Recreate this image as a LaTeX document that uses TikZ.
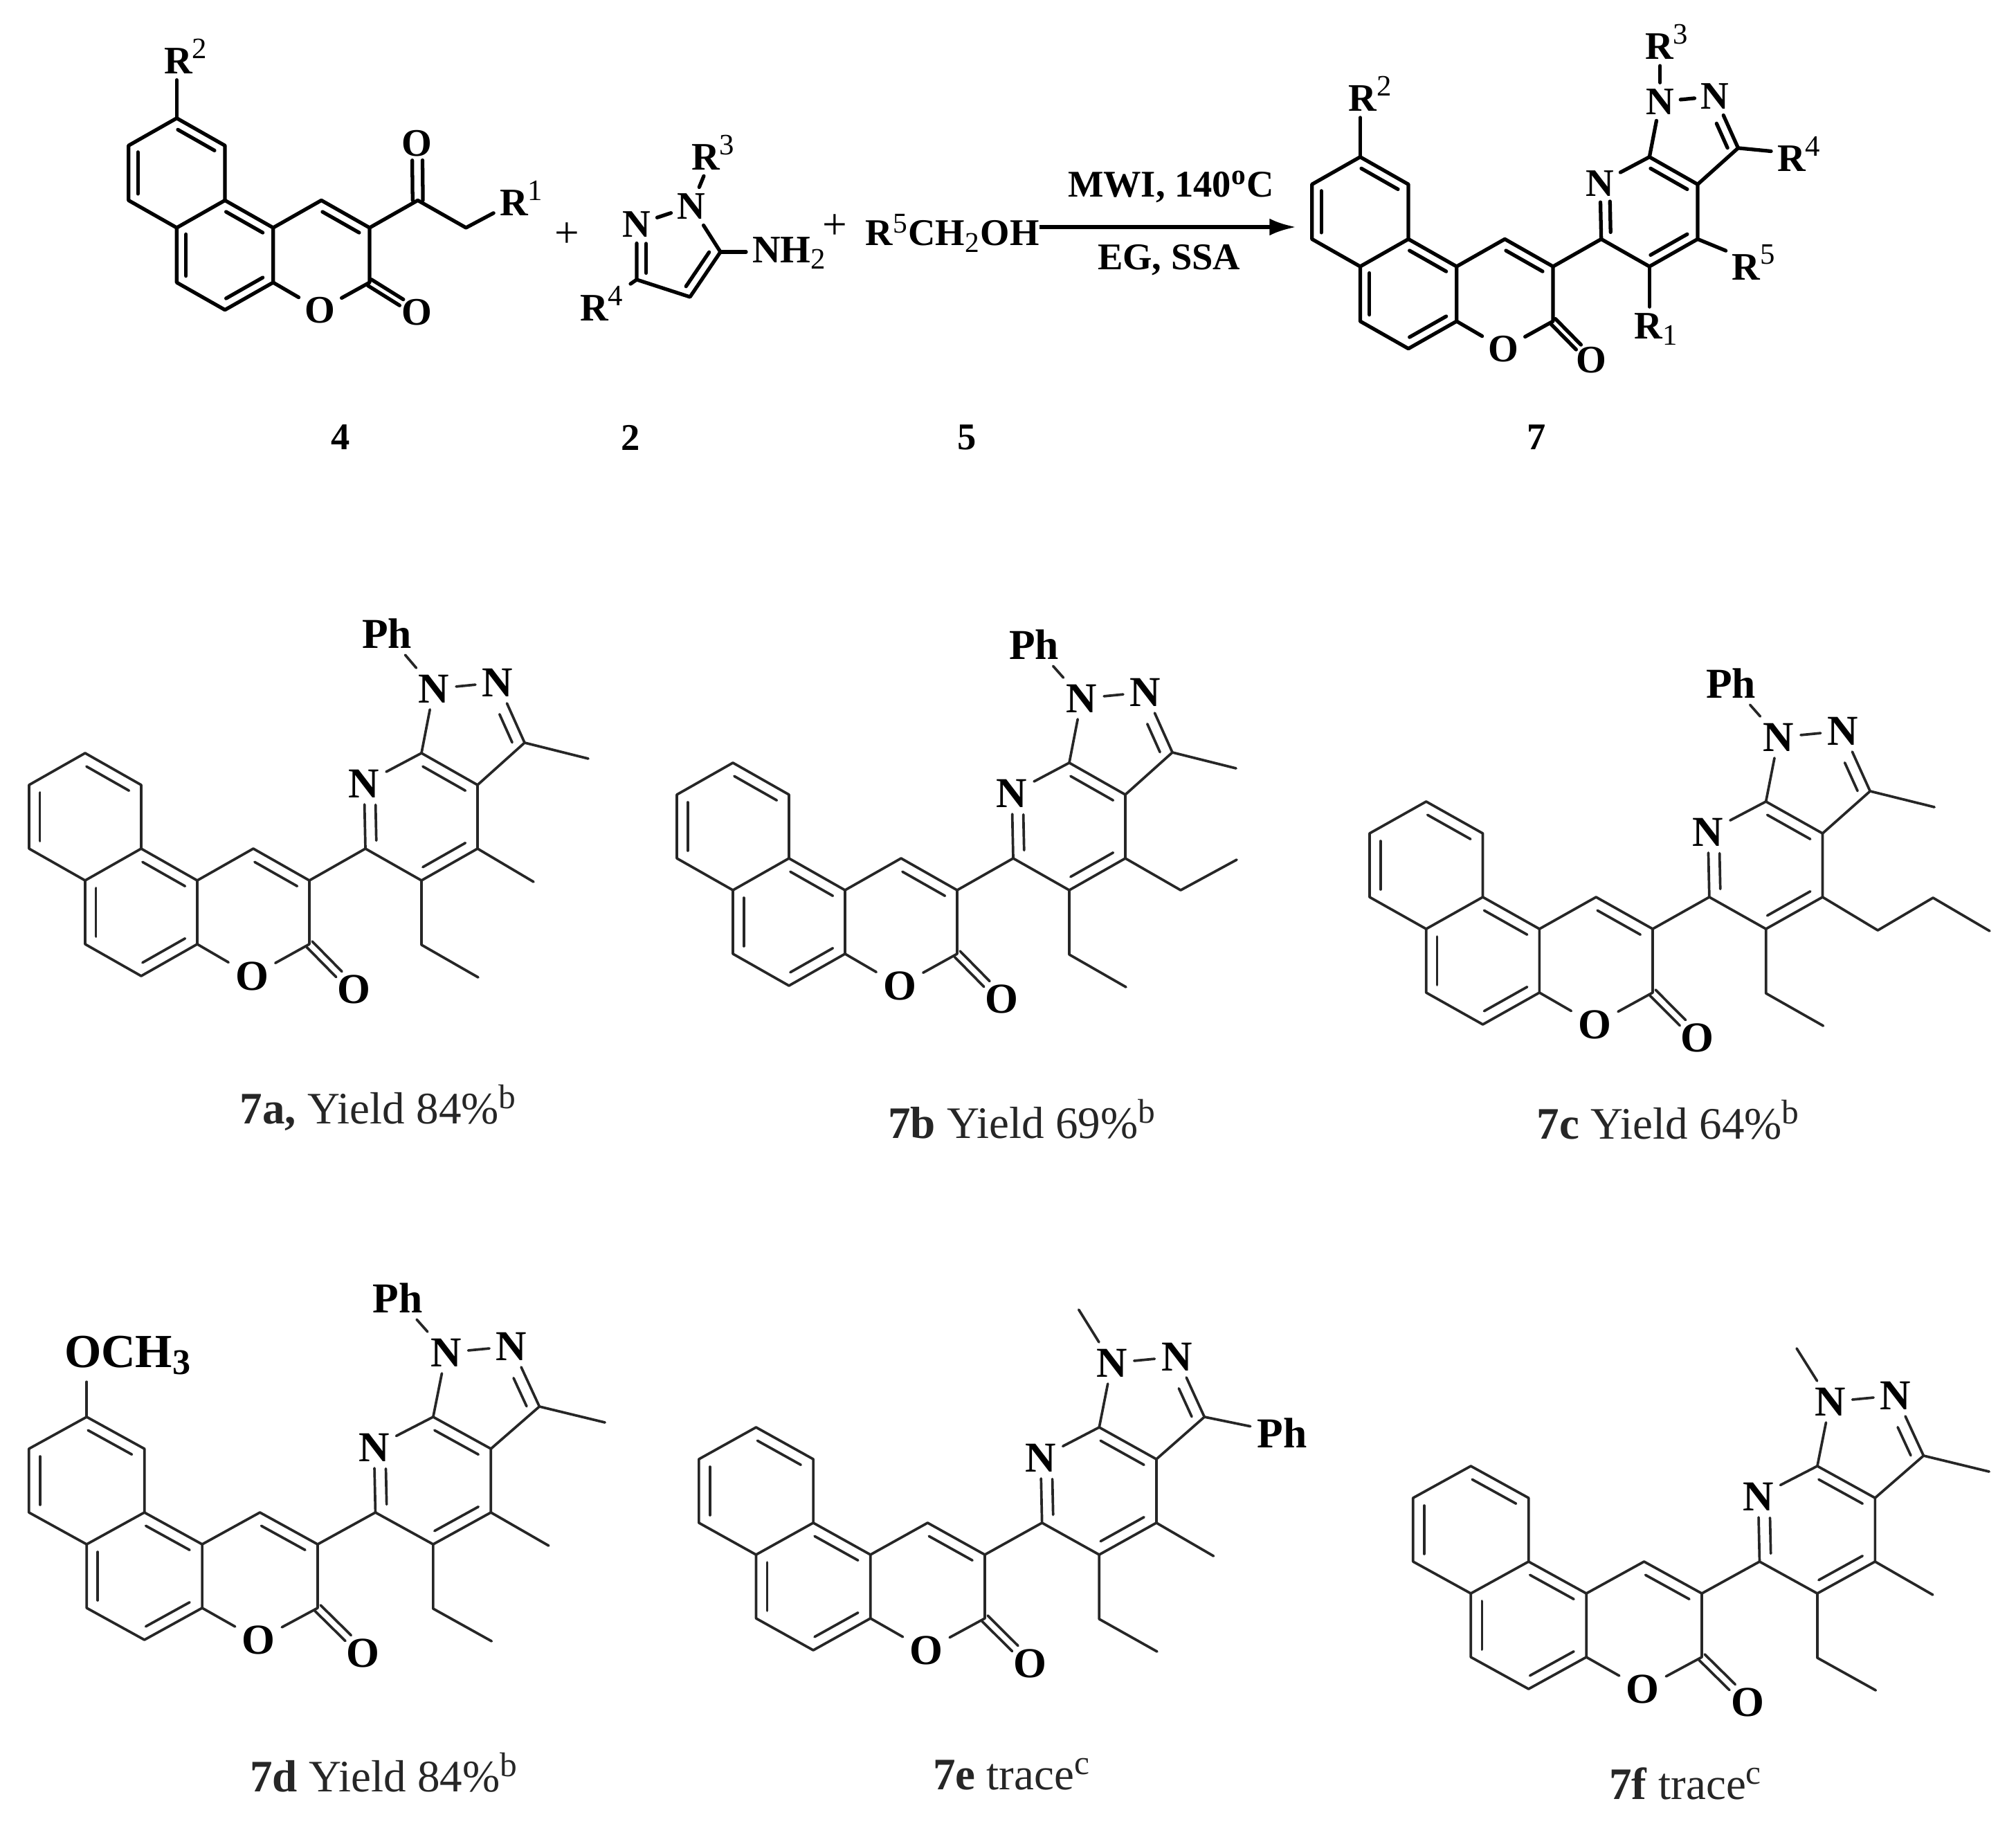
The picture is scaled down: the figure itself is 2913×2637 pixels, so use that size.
\documentclass[tikz,border=0pt]{standalone}
\usepackage{fontspec}
\setmainfont{Liberation Serif}
\usetikzlibrary{calc,arrows.meta}
\renewcommand{\defaultscriptratio}{.76}
\tikzset{
 bond/.style={line width=1.05pt,color=black!85,line cap=round,line join=round},
 atom/.style={font=\fontsize{17.5}{20}\selectfont\bfseries,inner sep=2.6pt},
 heavy/.style={
  bond/.style={line width=1.5pt,color=black,line cap=round,line join=round},
  atom/.style={font=\fontsize{16}{18}\selectfont\bfseries,inner sep=2.4pt}},
 reagent/.style={font=\fontsize{15.5}{18}\selectfont\bfseries,inner sep=0pt},
 plus/.style={font=\fontsize{18}{20}\selectfont,inner sep=0pt},
 yield/.style={font=\fontsize{18.5}{22}\selectfont,inner sep=0pt,text=black!85},
}
\newcommand{\rgrp}[1]{R\textsuperscript{\mdseries #1}}
% inner line of a double bond, on the left of first->second
\newcommand{\dbl}[5][.17]{\draw[bond] ($($(#2)!#1!90:(#3)$)!#4!($(#3)!#1!-90:(#2)$)$) -- ($($(#3)!#1!-90:(#2)$)!#5!($(#2)!#1!90:(#3)$)$);}
% naphthalene + lactone, C3 at the origin
\newcommand{\coumarincore}[2]{
 \coordinate (#1a1) at (-324,-184);
 \coordinate (#1a2) at (-243,-138);
 \coordinate (#1a3) at (-243,-46);
 \coordinate (#1a4) at (-324,0);
 \coordinate (#1a5) at (-405,-46);
 \coordinate (#1a6) at (-405,-138);
 \coordinate (#1b1) at (-162,0);
 \coordinate (#1b2) at (-162,92);
 \coordinate (#1b3) at (-243,138);
 \coordinate (#1b4) at (-324,92);
 \coordinate (#1c4) at (-81,-46);
 \coordinate (#1c3) at (0,0);
 \coordinate (#1c2) at (0,92);
 \node[atom] (#1o1) at (-83,138) {O};
 \node[atom] (#1o2) at (#2) {O};
 \draw[bond] (#1a1)--(#1a2)--(#1a3)--(#1a4)--(#1a5)--(#1a6)--cycle;
 \draw[bond] (#1a3)--(#1b1)--(#1b2)--(#1b3)--(#1b4)--(#1a4);
 \draw[bond] (#1b1)--(#1c4)--(#1c3)--(#1c2)--(#1o1)--(#1b2);
 \dbl{#1a2}{#1a1}{.12}{.12}
 \dbl{#1a6}{#1a5}{.12}{.12}
 \dbl{#1b1}{#1a3}{.12}{.12}
 \dbl{#1a4}{#1b4}{.12}{.12}
 \dbl{#1b3}{#1b2}{.12}{.12}
 \dbl{#1c3}{#1c4}{.12}{.12}
 \dbl[.063]{#1c2}{#1o2}{0}{.33}
 \dbl[-.063]{#1c2}{#1o2}{0}{.33}
}
% pyridine + pyrazole on C3
\newcommand{\pyrazolopyridine}[1]{
 \coordinate (#1p6) at (81,-46);
 \node[atom] (#1pn) at (79,-140) {N};
 \coordinate (#1p7) at (162,-184);
 \coordinate (#1p3a) at (243,-138);
 \coordinate (#1p4) at (243,-46);
 \coordinate (#1p5) at (162,0);
 \node[atom] (#1pn1) at (180,-277) {N};
 \node[atom] (#1pn2) at (272,-286) {N};
 \coordinate (#1p3) at (311,-199);
 \draw[bond] (#1c3)--(#1p6)--(#1pn)--(#1p7)--(#1p3a)--(#1p4)--(#1p5)--(#1p6);
 \draw[bond] (#1p7)--(#1pn1)--(#1pn2)--(#1p3)--(#1p3a);
 \dbl{#1p3a}{#1p7}{.12}{.12}
 \dbl{#1p5}{#1p4}{.12}{.12}
 \dbl{#1pn}{#1p6}{.33}{.12}
 \dbl{#1p3}{#1pn2}{.08}{.45}
}
\begin{document}
\begin{tikzpicture}[x=0.01cm,y=-0.01cm]
\useasboundingbox (0,0) rectangle (2913,2637);

% 4
\begin{scope}[shift={(534,329)},scale=.86,heavy]
 \coumarincore{s}{80,142}
 \coordinate (sco) at (81,-46);
 \coordinate (sch) at (162,0);
 \node[atom] (sotop) at (80,-142) {O};
 \node[atom] (sr1) at (256,-50) {\rgrp{1}};
 \node[atom] (sr2) at (-308,-288) {\rgrp{2}};
 \draw[bond] (sa1)--(sa1 |- sr2.south);
 \draw[bond] (sc3)--(sco)--(sch)--(sr1);
 \dbl[.09]{sco}{sotop}{0}{.3}
 \dbl[-.09]{sco}{sotop}{0}{.3}
\end{scope}

% 2
\begin{scope}[heavy]
 \node[atom] (bn1) at (999,298) {N};
 \node[atom] (bn2) at (920,324) {N};
 \coordinate (bc3) at (920,404);
 \coordinate (bc4) at (997,429);
 \coordinate (bc5) at (1041,364);
 \node[atom,anchor=west] (bnh) at (1078,366) {NH\textsubscript{\mdseries 2}};
 \node[atom] (br3) at (1031,220) {\rgrp{3}};
 \node[atom] (br4) at (870,438) {\rgrp{4}};
 \draw[bond] (bn1)--(bn2)--(bc3)--(bc4)--(bc5)--(bn1);
 \draw[bond] (bn1)--(br3);
 \draw[bond] (bc3)--(br4);
 \draw[bond] (bc5)--(bc5 -| bnh.west);
 \dbl{bn2}{bc3}{.35}{.12}
 \dbl{bc4}{bc5}{.12}{.12}
\end{scope}

\node[plus] (plusa) at (819,340) {+};
\node[plus] (plusb) at (1206,328) {+};
\node[reagent,anchor=west] (alcohol) at (1250,337) {\rgrp{5}CH\textsubscript{\mdseries 2}OH};
\coordinate (arrowend) at (1873,328);
\draw[line width=1.7pt,-{Latex[length=11pt,width=7pt]}] (alcohol.east |- arrowend)--(arrowend);
\node[reagent] (cond) at (1692,270) {MWI, 140\textsuperscript{o}C};
\node[reagent] (solv) at (1689,376) {EG, SSA};

% 7
\begin{scope}[shift={(2244,385)},scale=.86,heavy]
 \coumarincore{t}{64,157}
 \pyrazolopyridine{t}
 \node[atom] (tr2) at (-306,-290) {\rgrp{2}};
 \node[atom] (tr3) at (192,-377) {\rgrp{3}};
 \node[atom] (tr4) at (414,-189) {\rgrp{4}};
 \node[atom] (tr5) at (338,-7) {\rgrp{5}};
 \node[atom] (tr1) at (174,105) {R\textsubscript{\mdseries 1}};
 \draw[bond] (ta1)--(ta1 |- tr2.south);
 \draw[bond] (tpn1.north)--(tpn1.north |- tr3.south);
 \draw[bond] (tp3)--(tr4);
 \draw[bond] (tp4)--(tr5);
 \draw[bond] (tp5)--(tp5 |- tr1.north);
\end{scope}

\node[reagent] (num4) at (492,632) {4};
\node[reagent] (num2) at (911,632) {2};
\node[reagent] (num5) at (1397,632) {5};
\node[reagent] (num7) at (2220,632) {7};

% 7a
\begin{scope}[shift={(447,1272)}]
 \coumarincore{a}{64,157}
 \pyrazolopyridine{a}
 \node[atom] (aph) at (112,-357) {Ph};
 \coordinate (am3) at (403,-176);
 \coordinate (am4) at (324,2);
 \coordinate (ae1) at (162,93);
 \coordinate (ae2) at (244,140);
 \draw[bond] (apn1)--(aph);
 \draw[bond] (ap3)--(am3);
 \draw[bond] (ap4)--(am4);
 \draw[bond] (ap5)--(ae1)--(ae2);
\end{scope}
\node[yield] (acap) at (547,1600) {\textbf{7a,} Yield 84\%\textsuperscript{b}};

% 7b
\begin{scope}[shift={(1383,1286)}]
 \coumarincore{b}{64,157}
 \pyrazolopyridine{b}
 \node[atom] (bph) at (111,-355) {Ph};
 \coordinate (bm3) at (403,-176);
 \coordinate (bp1) at (323,0);
 \coordinate (bp2) at (404,-44);
 \coordinate (be1) at (162,93);
 \coordinate (be2) at (244,140);
 \draw[bond] (bpn1)--(bph);
 \draw[bond] (bp3)--(bm3);
 \draw[bond] (bp4)--(bp1)--(bp2);
 \draw[bond] (bp5)--(be1)--(be2);
\end{scope}
\node[yield] (bcap) at (1477,1617) {\textbf{7b} Yield 69\%\textsuperscript{b}};

% 7c
\begin{scope}[shift={(2388,1342)},xscale=1.01]
 \coumarincore{c}{64,157}
 \pyrazolopyridine{c}
 \node[atom] (cph) at (112,-355) {Ph};
 \coordinate (cm3) at (403,-176);
 \coordinate (cq1) at (322,2);
 \coordinate (cq2) at (401,-45);
 \coordinate (cq3) at (482,3);
 \coordinate (ce1) at (162,93);
 \coordinate (ce2) at (244,140);
 \draw[bond] (cpn1)--(cph);
 \draw[bond] (cp3)--(cm3);
 \draw[bond] (cp4)--(cq1)--(cq2)--(cq3);
 \draw[bond] (cp5)--(ce1)--(ce2);
\end{scope}
\node[yield] (ccap) at (2411,1618) {\textbf{7c} Yield 64\%\textsuperscript{b}};

% 7d
\begin{scope}[shift={(459,2231)},xscale=1.03]
 \coumarincore{d}{64,157}
 \pyrazolopyridine{d}
 \node[atom] (dph) at (112,-356) {Ph};
 \node[atom,font=\fontsize{19.5}{22}\selectfont\bfseries] (dome) at (-266,-273) {OCH\textsubscript{3}};
 \coordinate (dm3) at (403,-176);
 \coordinate (dm4) at (324,2);
 \coordinate (de1) at (162,93);
 \coordinate (de2) at (244,140);
 \draw[bond] (da1)--(da1 |- dome.south);
 \draw[bond] (dpn1)--(dph);
 \draw[bond] (dp3)--(dm3);
 \draw[bond] (dp4)--(dm4);
 \draw[bond] (dp5)--(de1)--(de2);
\end{scope}
\node[yield] (dcap) at (555,2561) {\textbf{7d} Yield 84\%\textsuperscript{b}};

% 7e
\begin{scope}[shift={(1423,2246)},xscale=1.02]
 \coumarincore{e}{64,157}
 \pyrazolopyridine{e}
 \node[atom] (eph) at (421,-176) {Ph};
 \coordinate (em1) at (133,-354);
 \coordinate (em4) at (324,2);
 \coordinate (ee1) at (162,93);
 \coordinate (ee2) at (244,140);
 \draw[bond] (epn1)--(em1);
 \draw[bond] (ep3)--(eph);
 \draw[bond] (ep4)--(em4);
 \draw[bond] (ep5)--(ee1)--(ee2);
\end{scope}
\node[yield] (ecap) at (1462,2563) {\textbf{7e} trace\textsuperscript{c}};

% 7f
\begin{scope}[shift={(2459,2302)},xscale=1.03]
 \coumarincore{f}{64,157}
 \pyrazolopyridine{f}
 \coordinate (fm1) at (133,-354);
 \coordinate (fm3) at (403,-176);
 \coordinate (fm4) at (324,2);
 \coordinate (fe1) at (162,93);
 \coordinate (fe2) at (244,140);
 \draw[bond] (fpn1)--(fm1);
 \draw[bond] (fp3)--(fm3);
 \draw[bond] (fp4)--(fm4);
 \draw[bond] (fp5)--(fe1)--(fe2);
\end{scope}
\node[yield] (fcap) at (2436,2577) {\textbf{7f} trace\textsuperscript{c}};
\end{tikzpicture}
\end{document}
